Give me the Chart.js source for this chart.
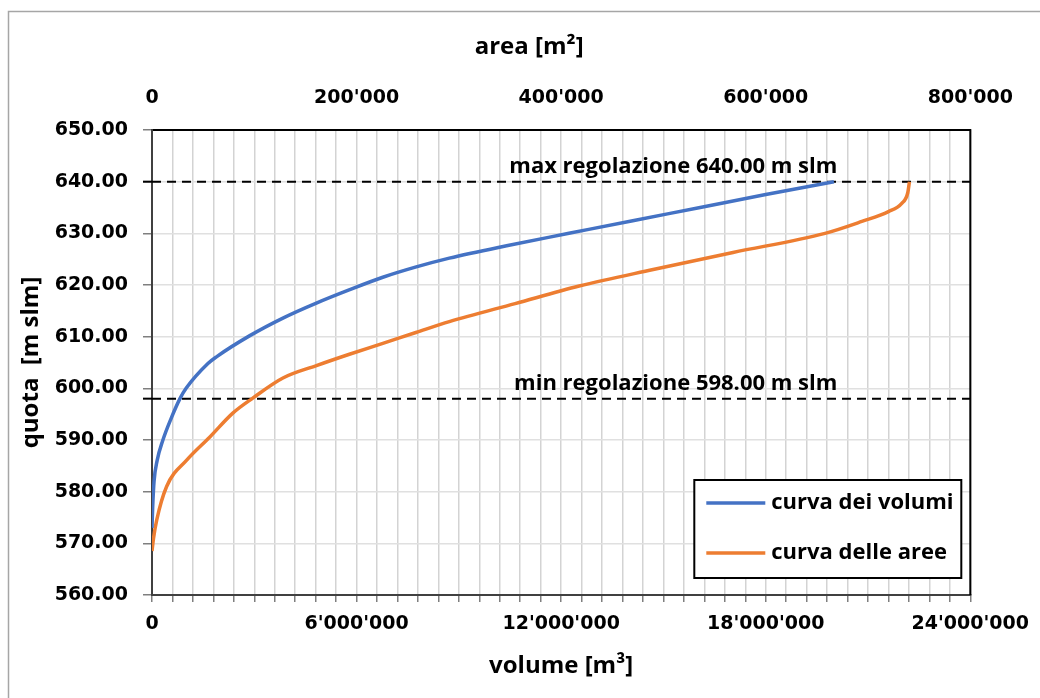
<!DOCTYPE html>
<html>
<head>
<meta charset="utf-8">
<script src="https://cdn.jsdelivr.net/npm/chart.js@4/dist/chart.umd.min.js"></script>
<style>
  html, body { margin: 0; padding: 0; background: #fff; }
  canvas { display: block; }
</style>
</head>
<body>
<canvas id="curveChart" width="1040" height="698"></canvas>
<script>
// --- Data ---
// curva dei volumi: quota [m slm] vs volume [m3]
const volQuota = [573, 577, 582, 586, 590, 594, 598, 600, 604.8, 606.1, 610.2, 613.6, 616.5, 619.1, 621.5, 623.5, 625.2, 627.6, 630, 632.45, 634.95, 637.5, 640];
const volValues = [0, 20000, 60000, 150000, 320000, 550000, 820000, 1000000, 1640000, 1890000, 2870000, 3840000, 4820000, 5800000, 6770000, 7750000, 8720000, 10400000, 12230000, 14100000, 16040000, 18000000, 20000000];

// curva delle aree: quota [m slm] vs area [m2]
const areaQuota = [568.5, 571, 574.5, 581, 586.1, 590.6, 595.2, 598.1, 602, 604.4, 606.6, 608.7, 610.8, 612.9, 616.4, 619.8, 623, 626.3, 630, 632.3, 634.2, 635.8, 637.8, 640];
const areaValues = [0, 1500, 4600, 14300, 33900, 56600, 79000, 98500, 128000, 160700, 193000, 225700, 258000, 290700, 355000, 417600, 490000, 568000, 658000, 694000, 720000, 733000, 738800, 740500];

// regulation levels
const levelValues = [640, 598];
const levelLabels = ['max regolazione 640.00 m slm', 'min regolazione 598.00 m slm'];

// axis ranges
const volumeRange = [0, 24000000];
const areaRange = [0, 800000];
const quotaRange = [560, 650];

const BLUE = '#4472C4';
const ORANGE = '#ED7D31';
const tickFont = { family: 'DejaVu Sans', size: 19, weight: 'bold' };
const textFamily = '"Open Sans", sans-serif';
const titleFont = { family: textFamily, size: 24, weight: 'bold' };

function fmtApos(v) {
    // 6000000 -> 6'000'000
    return Math.round(v).toString().replace(/\B(?=(\d{3})+(?!\d))/g, "'");
}

function toPoints(xs, ys) {
    return xs.map((x, i) => ({ x: x, y: ys[i] }));
}

// --- Plugins: frame, top title, level labels, legend box ---
const framePlugin = {
    id: 'frame',
    beforeDraw(chart) {
        const c = chart.ctx;
        c.save();
        c.fillStyle = '#fff';
        c.fillRect(0, 0, chart.width, chart.height);
        c.strokeStyle = '#a6a6a6';
        c.lineWidth = 1.5;
        c.strokeRect(8.5, 11.5, chart.width + 20, chart.height + 20);
        c.restore();
    },
    afterDraw(chart) {
        const c = chart.ctx;
        const a = chart.chartArea;
        const x = chart.scales.x;
        const y = chart.scales.y;
        c.save();
        // right edge of plot area
        c.strokeStyle = '#000';
        c.lineWidth = 2;
        c.beginPath();
        c.moveTo(a.right, a.top - 1);
        c.lineTo(a.right, a.bottom);
        c.stroke();

        // top axis title (sits a little left of centre in the original)
        c.fillStyle = '#000';
        c.font = 'bold 24px ' + textFamily;
        c.textAlign = 'center';
        c.textBaseline = 'middle';
        c.fillText('area [m²]', (a.left + a.right) / 2 - 32, 47);

        // level labels + short stub of the dashed line over the tick area
        c.font = 'bold 22px ' + textFamily;
        c.textAlign = 'right';
        c.textBaseline = 'alphabetic';
        levelValues.forEach((lv, i) => {
            const py = y.getPixelForValue(lv);
            c.beginPath();
            c.moveTo(a.left - 9, py);
            c.lineTo(a.left, py);
            c.stroke();
            c.fillText(levelLabels[i], x.getPixelForValue(20100000), py - 9);
        });

        // legend
        const bw = 267, bh = 98;
        const bx = a.right - 9 - bw;
        const by = a.bottom - 17 - bh;
        c.fillStyle = '#fff';
        c.fillRect(bx, by, bw, bh);
        c.strokeStyle = '#000';
        c.lineWidth = 2;
        c.strokeRect(bx, by, bw, bh);
        c.font = 'bold 22px ' + textFamily;
        c.textAlign = 'left';
        c.textBaseline = 'middle';
        chart.data.datasets.slice(0, 2).forEach((ds, i) => {
            const ly = by + 23 + i * 50;
            c.strokeStyle = ds.borderColor;
            c.lineWidth = 3.5;
            c.beginPath();
            c.moveTo(bx + 12, ly);
            c.lineTo(bx + 71, ly);
            c.stroke();
            c.fillStyle = '#000';
            c.fillText(ds.label, bx + 77, ly);
        });
        c.restore();
    }
};

// --- Chart setup ---
const datasets = [
    {
        label: 'curva dei volumi',
        data: toPoints(volValues, volQuota),
        xAxisID: 'x',
        borderColor: BLUE,
        borderWidth: 3.5,
        pointRadius: 0,
        showLine: true,
        cubicInterpolationMode: 'monotone'
    },
    {
        label: 'curva delle aree',
        data: toPoints(areaValues, areaQuota),
        xAxisID: 'x2',
        borderColor: ORANGE,
        borderWidth: 3.5,
        pointRadius: 0,
        showLine: true,
        cubicInterpolationMode: 'monotone'
    }
];
levelValues.forEach(lv => {
    datasets.push({
        label: 'level ' + lv,
        data: toPoints(volumeRange, [lv, lv]),
        xAxisID: 'x',
        borderColor: '#000',
        borderWidth: 2,
        borderDash: [9, 6],
        pointRadius: 0,
        showLine: true
    });
});

const ctx = document.getElementById('curveChart').getContext('2d');
const curveChart = new Chart(ctx, {
    type: 'scatter',
    data: { datasets: datasets },
    plugins: [framePlugin],
    options: {
        responsive: false,
        animation: false,
        devicePixelRatio: 1,
        layout: { padding: { left: 0, top: 0, right: 68, bottom: 0 } },
        plugins: {
            legend: { display: false },
            tooltip: { enabled: false }
        },
        scales: {
            x: {
                type: 'linear',
                position: 'bottom',
                min: volumeRange[0],
                max: volumeRange[1],
                afterFit: s => { s.height = 103; },
                ticks: {
                    stepSize: 600000,
                    autoSkip: false,
                    maxRotation: 0,
                    padding: 11,
                    color: '#000',
                    font: tickFont,
                    callback: v => (v % 6000000 === 0 ? fmtApos(v) : '')
                },
                grid: { color: '#d3d3d3', lineWidth: 1.5, tickLength: 7, tickColor: '#7f7f7f' },
                border: { color: '#404040', width: 2 },
                title: {
                    display: true,
                    text: 'volume [m³]',
                    color: '#000',
                    font: titleFont,
                    padding: { top: 0, bottom: 17 }
                }
            },
            x2: {
                type: 'linear',
                position: 'top',
                min: areaRange[0],
                max: areaRange[1],
                afterFit: s => { s.height = 130; },
                ticks: {
                    stepSize: 200000,
                    autoSkip: false,
                    maxRotation: 0,
                    padding: 21,
                    color: '#000',
                    font: tickFont,
                    callback: v => fmtApos(v)
                },
                grid: { drawOnChartArea: false, drawTicks: false },
                border: { color: '#000', width: 2 }
            },
            y: {
                type: 'linear',
                position: 'left',
                min: quotaRange[0],
                max: quotaRange[1],
                afterFit: s => { s.width = 152; },
                ticks: {
                    stepSize: 10,
                    padding: 15,
                    color: '#000',
                    font: tickFont,
                    callback: v => v.toFixed(2)
                },
                grid: { color: '#e0e0e0', lineWidth: 1.5, tickLength: 9, tickColor: '#7f7f7f' },
                border: { color: '#404040', width: 2 },
                title: {
                    display: true,
                    text: 'quota  [m slm]',
                    color: '#000',
                    font: titleFont,
                    padding: { top: 17, bottom: 0 }
                }
            }
        }
    }
});
</script>
</body>
</html>
